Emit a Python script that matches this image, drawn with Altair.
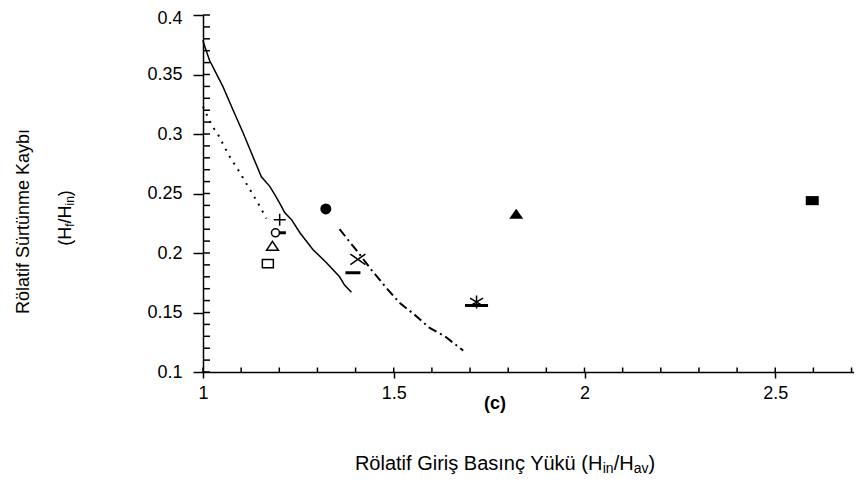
import altair as alt
import pandas as pd

# ---------------- data ----------------
solid_x = [1.000, 1.002, 1.017, 1.052, 1.079, 1.105, 1.127, 1.153, 1.175, 1.192, 1.206, 1.214,
           1.232, 1.254, 1.288, 1.323, 1.358, 1.371, 1.389]
solid_y = [0.379, 0.376, 0.362, 0.340, 0.320, 0.301, 0.284, 0.264, 0.256, 0.247, 0.239, 0.234,
           0.228, 0.217, 0.203, 0.192, 0.180, 0.173, 0.167]

dotted_x = [1.000, 1.013, 1.025, 1.037, 1.068, 1.092, 1.118, 1.144, 1.166]
dotted_y = [0.323, 0.314, 0.306, 0.301, 0.282, 0.270, 0.256, 0.242, 0.229]

dashdot_x = [1.358, 1.384, 1.402, 1.441, 1.485, 1.516, 1.555, 1.594, 1.634, 1.682]
dashdot_y = [0.220, 0.2095, 0.2025, 0.186, 0.169, 0.158, 0.148, 0.137, 0.130, 0.118]

marker_kind = ["filled_circle", "plus", "open_circle", "small_dash", "open_triangle",
               "open_square", "cross", "dash", "asterisk", "wide_dash",
               "filled_triangle", "filled_rect"]
marker_x = [1.322, 1.201, 1.190, 1.208, 1.182, 1.170, 1.406, 1.393, 1.717, 1.717, 1.821, 2.597]
marker_y = [0.237, 0.228, 0.217, 0.217, 0.206, 0.191, 0.1947, 0.1834, 0.1588, 0.1559, 0.233, 0.244]

x_tick_labels = [1, 1.5, 2, 2.5]
y_tick_labels = [0.1, 0.15, 0.2, 0.25, 0.3, 0.35, 0.4]

x_title_pieces = [("Rölatif Giriş Basınç Yükü (H", 0), ("in", 1), ("/H", 0), ("av", 1), (")", 0)]
y_title_line1 = "Rölatif Sürtünme Kaybı"
y_title_pieces = [("(H", 0), ("f", 1), ("/H", 0), ("in", 1), (")", 0)]
panel_label = "(c)"

# ---------------- layout ----------------
W, H = 651, 357
FONT = "Liberation Sans"
xs = alt.Scale(domain=[1.0, 1.0 + W / 381.5], nice=False, zero=False)
ys = alt.Scale(domain=[0.1, 0.4], nice=False, zero=False)

ARIAL = {'R': 722, 'ö': 556, 'l': 222, 'a': 556, 't': 278, 'i': 222, 'f': 278, ' ': 278,
         'G': 778, 'r': 333, 'ş': 500, 'B': 667, 's': 500, 'ı': 278, 'n': 556, 'ç': 500,
         'Y': 667, 'ü': 556, 'k': 500, '(': 333, 'H': 722, '/': 278, ')': 333, 'S': 667,
         'm': 833, 'e': 556, 'K': 667, 'y': 500, 'b': 556, 'v': 500, 'c': 500}


def tw(s, fs):
    return sum(ARIAL.get(ch, 556) for ch in s) * fs / 1000.0


xaxis = alt.Axis(values=x_tick_labels, format="~g", tickSize=6, tickWidth=1.5, tickColor="black",
                 domainColor="black", domainWidth=1.5, labelFontSize=18, labelFont=FONT,
                 labelColor="black", labelPadding=6, grid=False, title=None, labelFlush=False)
yaxis = alt.Axis(values=y_tick_labels, format="~g", tickSize=10, tickWidth=1.5, tickColor="black",
                 domainColor="black", domainWidth=1.5, labelFontSize=18, labelFont=FONT,
                 labelColor="black", labelPadding=11, grid=False, title=None, labelFlush=False,
                 labelOffset={"condition": {"test": "datum.value >= 0.399", "value": 3}, "value": 0})


def X(field):
    return alt.X(field, scale=xs, axis=xaxis)


def Y(field):
    return alt.Y(field, scale=ys, axis=yaxis)


layers = []

solid_df = pd.DataFrame({"x": solid_x, "y": solid_y, "o": range(len(solid_x))})
layers.append(
    alt.Chart(solid_df).mark_line(color="black", strokeWidth=1.5).encode(
        x=X("x:Q"), y=Y("y:Q"), order="o:Q")
)

dotted_df = pd.DataFrame({"x": dotted_x, "y": dotted_y, "o": range(len(dotted_x))})
layers.append(
    alt.Chart(dotted_df).mark_line(color="black", strokeWidth=2, strokeDash=[2, 6]).encode(
        x=X("x:Q"), y=Y("y:Q"), order="o:Q")
)

dashdot_df = pd.DataFrame({"x": dashdot_x, "y": dashdot_y, "o": range(len(dashdot_x))})
layers.append(
    alt.Chart(dashdot_df).mark_line(color="black", strokeWidth=2, strokeDash=[9, 4, 2, 4]).encode(
        x=X("x:Q"), y=Y("y:Q"), order="o:Q")
)

# inner (minor) ticks
y_minor = [round(0.1 + 0.01 * i, 2) for i in range(31)]
x_minor = [round(1.0 + 0.1 * i, 1) for i in range(18)]
layers.append(
    alt.Chart(pd.DataFrame({"y": y_minor})).mark_rule(color="black", strokeWidth=1.5).encode(
        y=Y("y:Q"), x=alt.value(0), x2=alt.value(7))
)
layers.append(
    alt.Chart(pd.DataFrame({"x": x_minor})).mark_rule(color="black", strokeWidth=1.5).encode(
        x=X("x:Q"), y=alt.value(H), y2=alt.value(H - 4.5))
)

# markers
styles = {
    "filled_circle": dict(shape="circle", filled=True, size=121),
    "plus": dict(shape="M-1,0H1M0,-1V1", filled=False, size=144, strokeWidth=1.5),
    "open_circle": dict(shape="circle", filled=False, size=64, strokeWidth=1.5),
    "small_dash": dict(shape="M-1,0H1", filled=False, size=49, strokeWidth=3),
    "open_triangle": dict(shape="M-1,0.75L0,-0.75L1,0.75Z", filled=False, size=144, strokeWidth=1.5),
    "open_square": dict(shape="M-1,-0.75H1V0.75H-1Z", filled=False, size=121, strokeWidth=1.5),
    "cross": dict(shape="M-1,-0.7L1,0.7M-1,0.7L1,-0.7", filled=False, size=225, strokeWidth=1.5),
    "dash": dict(shape="M-1,0H1", filled=False, size=225, strokeWidth=3),
    "asterisk": dict(shape="M0,-1V1M-1,-0.6L1,0.6M-1,0.6L1,-0.6", filled=False, size=169, strokeWidth=1.5),
    "wide_dash": dict(shape="M-1,0H1", filled=False, size=529, strokeWidth=3),
    "filled_triangle": dict(shape="M-1,0.7L0,-0.7L1,0.7Z", filled=True, size=196),
    "filled_rect": dict(shape="M-1,-0.7H1V0.7H-1Z", filled=True, size=169),
}
mk_df = pd.DataFrame({"kind": marker_kind, "x": marker_x, "y": marker_y})
for kind, st in styles.items():
    props = dict(st)
    if props["filled"]:
        props.update(fill="black", color="black")
    else:
        props.update(stroke="black", color="black")
    layers.append(
        alt.Chart(mk_df).transform_filter(alt.datum.kind == kind)
        .mark_point(opacity=1, **props)
        .encode(x=X("x:Q"), y=Y("y:Q"))
    )


def text_layer(t, px, py, **kw):
    return alt.Chart(pd.DataFrame({"t": [t]})).mark_text(font=FONT, color="black", **kw).encode(
        text="t:N", x=alt.value(px), y=alt.value(py))


# x title (horizontal, with subscripts)
FS_M, FS_S = 20, 14
total = sum(tw(t, FS_S if s else FS_M) for t, s in x_title_pieces)
cx = 505 - 203
base = 470 - 15
cur = cx - total / 2
for t, s in x_title_pieces:
    fs = FS_S if s else FS_M
    layers.append(text_layer(t, cur, base + (3 if s else 0), fontSize=fs, align="left",
                             baseline="alphabetic"))
    cur += tw(t, fs)

# y title line 1
layers.append(text_layer(y_title_line1, 24 - 203, 221.5 - 15, fontSize=18, angle=270,
                         align="center", baseline="middle"))
# y title line 2 (rotated, with subscripts)
FS_M2, FS_S2 = 18, 12
total2 = sum(tw(t, FS_S2 if s else FS_M2) for t, s in y_title_pieces)
cy = 218 - 15
cur = cy + total2 / 2
for t, s in y_title_pieces:
    fs = FS_S2 if s else FS_M2
    layers.append(text_layer(t, 66 - 203 + (4 if s else 0), cur, fontSize=fs, angle=270,
                             align="left", baseline="middle"))
    cur -= tw(t, fs)

# panel label
layers.append(text_layer(panel_label, 495 - 203, 404 - 15, fontSize=18, fontWeight="bold",
                         align="center", baseline="middle"))

chart = alt.layer(*layers).properties(
    width=W, height=H,
    padding={"left": 195, "top": 7, "right": 0, "bottom": 106},
    autosize=alt.AutoSizeParams(type="none"),
    background="white",
).configure_view(stroke=None)

chart.save("out.html", embed_options={"renderer": "svg", "actions": False})
